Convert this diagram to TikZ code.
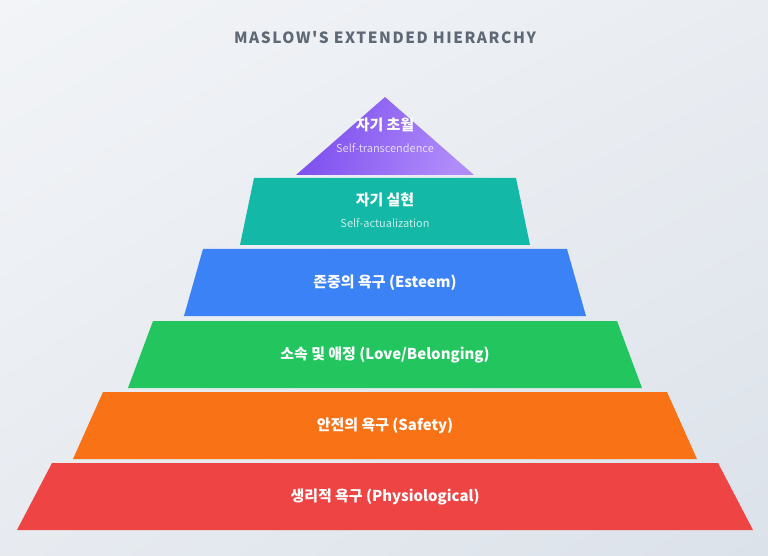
\documentclass[tikz,border=0pt]{standalone}
\usepackage{fontspec}
\setmainfont{Noto Sans CJK KR}
\newfontfamily\titlefont[LetterSpace=10]{Noto Sans CJK KR}
\usetikzlibrary{positioning,shadings}
\definecolor{bgLight}{HTML}{F2F4F7}
\definecolor{bgDark}{HTML}{DCE2EA}
\definecolor{titleGray}{HTML}{5F6875}
\definecolor{violetDark}{HTML}{7C4DEE}
\definecolor{violetLight}{HTML}{B08CFB}
\definecolor{tealLayer}{HTML}{14B8A6}
\definecolor{blueLayer}{HTML}{3B82F6}
\definecolor{greenLayer}{HTML}{22C55E}
\definecolor{orangeLayer}{HTML}{F97316}
\definecolor{redLayer}{HTML}{EF4444}
\newcommand\pyramidCenter{385}
\newcommand\layerHeight{67}
% one band of the pyramid: name, colour, top y, half width at top, half width at bottom, label
\newcommand\drawLayer[6]{
	\fill[#2] (\pyramidCenter-#4,#3) to (\pyramidCenter+#4,#3) to
	(\pyramidCenter+#5,#3+\layerHeight) to (\pyramidCenter-#5,#3+\layerHeight) to cycle;
	\node[layerlabel] (#1) at (\pyramidCenter,#3+\layerHeight/2) {#6};
}
\tikzset{
	layerlabel/.style={text=white, font=\fontsize{15}{18}\selectfont\bfseries, inner sep=0pt},
	sublabel/.style={text=white, text opacity=0.75, font=\fontsize{11}{13}\selectfont, inner sep=0pt},
}
\begin{document}
\begin{tikzpicture}[x=1bp, y=-1bp]
	\useasboundingbox (0,0) rectangle (768,556);
	\shade[upper left=bgLight, upper right=bgLight!60!bgDark, lower left=bgLight!50!bgDark, lower right=bgDark]
	(0,0) rectangle (768,556);
	
	\node[text=titleGray, font=\titlefont\fontsize{15.5}{19}\selectfont\bfseries, inner sep=0pt] (title) at (385,38)
	{MASLOW'S EXTENDED HIERARCHY};
	
	% top of the pyramid
	\shade[left color=violetDark, right color=violetLight, shading angle=70]
	(\pyramidCenter,97) to (\pyramidCenter+89,175) to (\pyramidCenter-89,175) to cycle;
	\node[layerlabel] (transcend) at (\pyramidCenter,125) {자기 초월};
	\node[sublabel, below=11bp of transcend] (transcendEn) {Self-transcendence};
	
	\drawLayer{actual}{tealLayer}{178}{131}{145}{}
	\node[layerlabel] (actualKo) at (\pyramidCenter,200) {자기 실현};
	\node[sublabel, below=11bp of actualKo] (actualEn) {Self-actualization};
	
	\drawLayer{esteem}{blueLayer}{249}{182}{201}{존중의 욕구 (Esteem)}
	\drawLayer{belonging}{greenLayer}{321}{232}{257}{소속 및 애정 (Love/Belonging)}
	\drawLayer{safety}{orangeLayer}{392}{282}{312}{안전의 욕구 (Safety)}
	\drawLayer{physio}{redLayer}{463}{333}{368}{생리적 욕구 (Physiological)}
\end{tikzpicture}
\end{document}
